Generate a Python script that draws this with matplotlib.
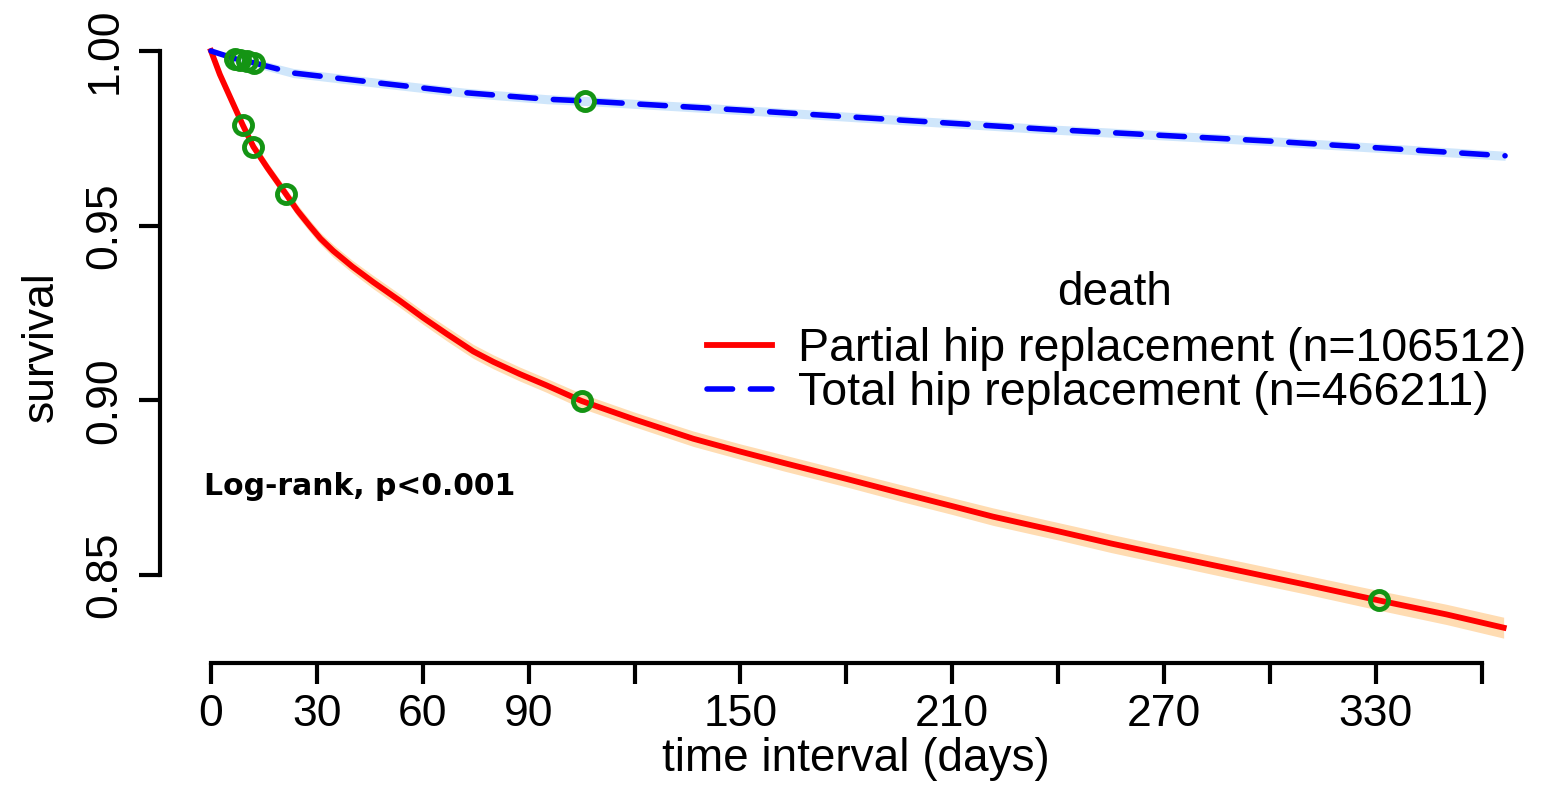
import matplotlib.pyplot as plt
import numpy as np

# Kaplan-Meier estimates read at selected days
partial_days = [0, 2.5, 5.9, 9.0, 12.0, 16.0, 21.2, 24.5, 28.0, 31.0, 34.6, 40.0, 46.0, 53.5,
                60.0, 66.8, 74.3, 80.0, 87.5, 95.0, 105.0, 120.0, 136.6, 150.0, 162.1, 180.0,
                195.2, 210.0, 221.5, 240.0, 255.0, 269.3, 290.0, 309.8, 330.9, 350.0, 366.2]
partial_surv = [1.0, 0.9933, 0.9857, 0.9788, 0.9726, 0.9665, 0.9591, 0.9543, 0.9499, 0.9463,
                0.9428, 0.9383, 0.9338, 0.9285, 0.9237, 0.9190, 0.9140, 0.9110, 0.9075,
                0.9043, 0.8998, 0.8945, 0.8890, 0.8853, 0.8821, 0.8775, 0.8735, 0.8697,
                0.8667, 0.8625, 0.8590, 0.8559, 0.8515, 0.8473, 0.8427, 0.8387, 0.8349]
partial_ci = [0.0, 0.0008, 0.0012, 0.0014, 0.0015, 0.0016, 0.0016, 0.0017, 0.0017, 0.0017,
              0.0018, 0.0018, 0.0019, 0.0019, 0.0019, 0.0020, 0.0020, 0.0020, 0.0020,
              0.0020, 0.0021, 0.0021, 0.0022, 0.0022, 0.0023, 0.0023, 0.0024, 0.0024,
              0.0025, 0.0025, 0.0026, 0.0026, 0.0027, 0.0027, 0.0028, 0.0029, 0.0030]

total_days = [0, 6.8, 12.2, 23.3, 47.9, 71.5, 95.1, 106.0, 150.0, 236.8, 300.0, 366.6]
total_surv = [1.0, 0.9978, 0.9966, 0.9937, 0.9908, 0.9881, 0.9862, 0.9857, 0.9831,
              0.9776, 0.9742, 0.9700]
total_ci = [0.0, 0.0011, 0.0012, 0.0013, 0.0013, 0.0013, 0.0013, 0.0013, 0.0013,
            0.0013, 0.0013, 0.0013]

# censoring marks (days)
partial_marks = [9.0, 12.0, 21.2, 105.0, 330.9]
total_marks = [6.8, 8.2, 10.2, 12.2, 106.0]

group_labels = ["Partial hip replacement (n=106512)", "Total hip replacement (n=466211)"]

xticks = [0, 30, 60, 90, 120, 150, 180, 210, 240, 270, 300, 330, 360]
xticklabels = ["0", "30", "60", "90", "", "150", "", "210", "", "270", "", "330", ""]
yticks = [0.85, 0.90, 0.95, 1.00]
yticklabels = ["0.85", "0.90", "0.95", "1.00"]

plt.rcParams['font.family'] = ['Liberation Sans', 'DejaVu Sans']

W, H = 1549, 791
fig = plt.figure(figsize=(W / 100, H / 100), dpi=100)
ax = fig.add_axes([160 / W, 1 - 663 / H, (1510 - 160) / W, (663 - 30) / H])
ax.set_xlim(-14.45, 368.0)
ax.set_ylim(0.82479, 1.00601)

pd_ = np.array(partial_days)
ps = np.array(partial_surv)
pc = np.array(partial_ci)
td = np.array(total_days)
ts = np.array(total_surv)
tc = np.array(total_ci)

ax.fill_between(pd_, ps - pc, ps + pc, color='#ffdcb2', lw=0, zorder=1)
ax.fill_between(td, ts - tc, ts + tc, color='#cfe6fb', lw=0, zorder=1)

ax.plot(pd_, ps, color='#ff0000', lw=4.2, zorder=3, label=group_labels[0],
        solid_joinstyle='round')
ax.plot(td, ts, color='#0000ff', lw=4.0, ls=(0, (4.6, 3.2)), zorder=3,
        label=group_labels[1], dash_capstyle='round')

green = '#149414'
ax.plot(partial_marks, np.interp(partial_marks, pd_, ps), 'o', ms=13, mfc='none',
        mec=green, mew=3.5, zorder=4)
ax.plot(total_marks, np.interp(total_marks, td, ts), 'o', ms=13, mfc='none',
        mec=green, mew=3.5, zorder=4)

for s in ['top', 'right']:
    ax.spines[s].set_visible(False)
ax.spines['left'].set_bounds(0.85, 1.00)
ax.spines['bottom'].set_bounds(0, 360)
ax.spines['left'].set_linewidth(3)
ax.spines['bottom'].set_linewidth(3)

ax.set_xticks(xticks)
ax.set_xticklabels(xticklabels)
ax.set_yticks(yticks)
ax.set_yticklabels(yticklabels, rotation=90, va='center')
ax.tick_params(axis='both', length=15, width=3, labelsize=32)
ax.tick_params(axis='x', pad=7)
ax.tick_params(axis='y', pad=10)

ax.set_xlabel("time interval (days)", fontsize=33)
ax.xaxis.set_label_coords((856 - 160) / 1350, -0.117)
ax.set_ylabel("survival", fontsize=32, labelpad=16)

ax.text(-2, 0.8752, "Log-rank, p<0.001", fontsize=21.5, fontweight='bold',
        family='DejaVu Sans', ha='left', va='center')

# legend title placed on its own, entries below
ax.text(256.0, 0.9308, "death", fontsize=33, ha='center', va='center')
leg = ax.legend(loc='upper left', bbox_to_anchor=((698 - 160) / 1350, 1 - (318 - 30) / 633),
                frameon=False, fontsize=33.5, handlelength=1.4, handletextpad=0.55,
                labelspacing=0.0, borderpad=0.2, borderaxespad=0)

fig.savefig('out.png', dpi=100)
